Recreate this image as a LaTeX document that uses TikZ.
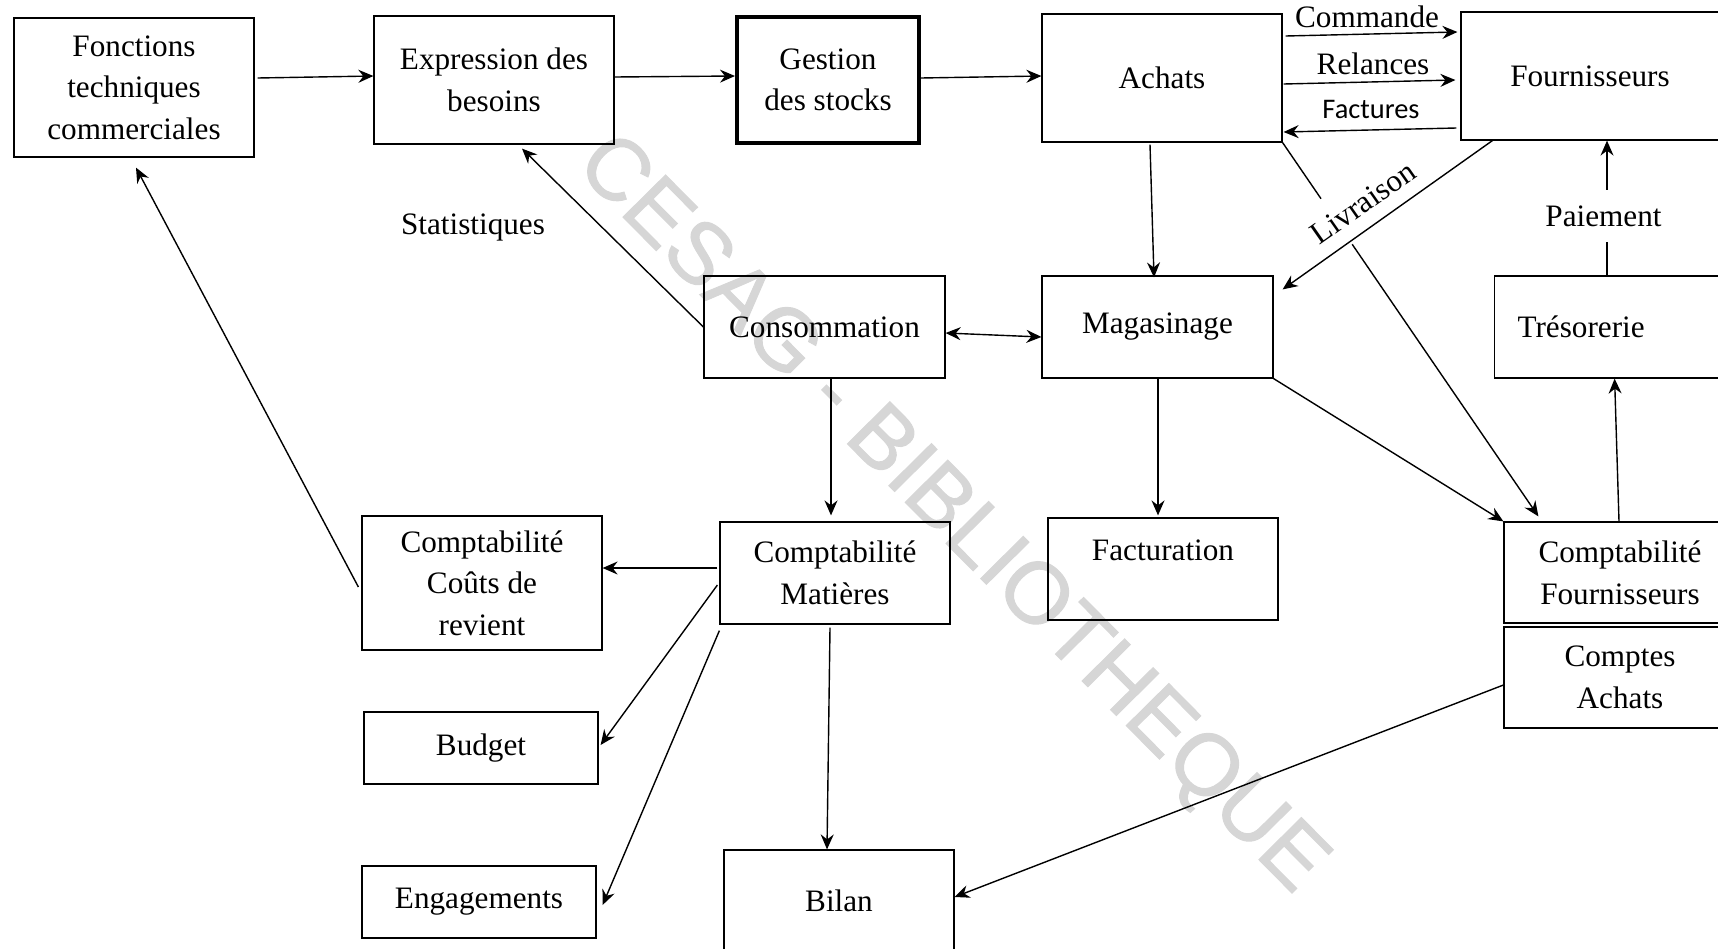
\documentclass[tikz,border=0pt]{standalone}
\usepackage{fontspec}
\setmainfont{Liberation Serif}
\newfontfamily\labelsans{Carlito}
\newfontfamily\markfont[FakeBold=1.2]{Liberation Sans}
\usetikzlibrary{arrows.meta,calc}
\newcommand\boxfont{\fontsize{15.6}{20.8}\selectfont}

\begin{document}
\begin{tikzpicture}[x=0.5pt, y=-0.5pt,
  box/.style={draw, line width=0.6pt, inner sep=0pt, align=center, font=\boxfont},
  conn/.style={line width=0.7pt, -{Stealth[length=7.5pt,width=6.5pt,inset=2.5pt]}},
  twoway/.style={line width=0.7pt, {Stealth[length=7.5pt,width=6.5pt,inset=2.5pt]}-{Stealth[length=7.5pt,width=6.5pt,inset=2.5pt]}},
  lbl/.style={font=\boxfont, inner sep=0pt},
  gap/.style={lbl, fill=white, inner xsep=2pt, inner ysep=8.5pt},
]
\useasboundingbox (0,0) rectangle (1718,948);
\clip (0,0) rectangle (1718,948);

% watermark
\node[text=black!16, font=\markfont\fontsize{43.5}{50}\selectfont, rotate=-45.3, inner sep=0pt] (wm) at (950,516) {CESAG - BIBLIOTHEQUE};

% boxes
\node[box, minimum width=120pt, minimum height=69.5pt] (fonc) at (134,87.5) {Fonctions\\techniques\\commerciales};
\node[box, minimum width=120pt, minimum height=64pt] (expr) at (494,80) {Expression des\\besoins};
\node[box, line width=2pt, minimum width=91pt, minimum height=63pt] (gest) at (828,80) {Gestion\\des stocks};
\node[box, minimum width=120pt, minimum height=64pt] (achats) at (1162,78) {Achats};
\node[box, minimum width=129pt, minimum height=64pt] (fourn) at (1590,76) {Fournisseurs};
\node[box, minimum width=120.5pt, minimum height=51pt] (conso) at (824.5,327) {Consommation};
\node[box, minimum width=115.5pt, minimum height=51pt] (magas) at (1157.5,327) {Magasinage};
\node[box, anchor=west, inner xsep=11.5pt, text width=100pt, align=left, minimum height=51pt] (treso) at (1494,327) {Trésorerie};
\node[box, minimum width=115pt, minimum height=51pt] (compmat) at (835,573) {Comptabilité\\Matières};
\node[box, minimum width=120pt, minimum height=67pt] (ccr) at (482,583) {Comptabilité\\Coûts de\\revient};
\node[box, minimum width=117pt, minimum height=36pt] (budget) at (481,748) {Budget};
\node[box, minimum width=117pt, minimum height=36pt] (engag) at (479,902) {Engagements};
\node[box, minimum width=115pt, minimum height=51pt] (bilan) at (839,901) {Bilan};
\node[box, minimum width=115pt, minimum height=51pt] (factu) at (1163,569) {\raisebox{4.5pt}[0pt][0pt]{Facturation}};
\node[box, minimum width=116pt, minimum height=50.5pt] (compfourn) at (1620,572.5) {Comptabilité\\Fournisseurs};
\node[box, minimum width=116pt, minimum height=50.5pt] (comptach) at (1620,677.5) {Comptes\\Achats};

% main chain
\draw[conn] ([xshift=1.5pt,yshift=4.75pt]fonc.east) -- ([yshift=2pt]expr.west);
\draw[conn] ([yshift=1.5pt]expr.east) -- ([yshift=2pt]gest.west);
\draw[conn] ([yshift=1pt]gest.east) -- ([yshift=1pt]achats.west);

% exchanges with suppliers
\draw[conn] ([xshift=1.5pt,yshift=21pt]achats.east) -- ([xshift=-1.5pt,yshift=22pt]fourn.west);
\draw[conn] ([xshift=0.5pt,yshift=-3pt]achats.east) -- ([xshift=-2.5pt,yshift=-2pt]fourn.west);
\draw[conn] ([xshift=-2pt,yshift=-26pt]fourn.west) -- ([xshift=0.5pt,yshift=-27pt]achats.east);
\node[lbl] (lcmd) at (1367,16.5) {Commande};
\node[lbl] (lrel) at (1373,64) {Relances};
\node[lbl, font=\labelsans\fontsize{14.2}{17}\selectfont] (lfac) at (1371,109) {Factures};

% flows to and from the store
\draw[conn] ([xshift=-6pt,yshift=-1pt]achats.south) -- ([xshift=-1.75pt,yshift=-1pt]magas.north);
\draw[conn] (achats.south east) -- ([xshift=17.5pt,yshift=2.5pt]compfourn.north west);
\node[gap, rotate=35] (lliv) at (1363,203) {Livraison};
\draw[conn] ([xshift=16pt]fourn.south west) -- ([xshift=4.5pt,yshift=-7pt]magas.north east);
\draw[conn] (magas.south east) -- (compfourn.north west);
\draw[conn] ([xshift=0.25pt]magas.south) -- ([xshift=-2.5pt,yshift=1pt]factu.north);
\draw[twoway] ([yshift=-3pt]conso.east) -- ([yshift=-5pt]magas.west);

% payment
\draw[conn] ([xshift=56.5pt]treso.north west) -- ([xshift=8.5pt]fourn.south);
\node[gap, inner ysep=8pt] (lpai) at (1603.5,216) {Paiement};
\draw[conn] ([xshift=-0.5pt]compfourn.north) -- ([xshift=-1.5pt]treso.south);

% consumption and accounting
\draw[conn] (conso.west) -- ([xshift=14pt,yshift=-2pt]expr.south);
\node[lbl] (lstat) at (473,227.5) {Statistiques};
\draw[conn] ([xshift=3.25pt]conso.south) -- ([xshift=-2pt,yshift=3pt]compmat.north);
\draw[conn] ([xshift=-1.5pt,yshift=-2pt]ccr.west) -- ([xshift=1pt,yshift=-5pt]fonc.south);
\draw[conn] ([xshift=-1pt,yshift=2.5pt]compmat.west) -- ([yshift=7.5pt]ccr.east);
\draw[conn] ([xshift=-1pt,yshift=-6pt]compmat.west) -- ([xshift=1pt,yshift=1.5pt]budget.east);
\draw[conn] ([yshift=-3pt]compmat.south west) -- ([xshift=3pt,yshift=-1.5pt]engag.east);
\draw[conn] ([xshift=-2.5pt,yshift=-1.5pt]compmat.south) -- ([xshift=-6pt]bilan.north);
\draw[conn] ([yshift=-3.75pt]comptach.west) -- ([yshift=2pt]bilan.east);
\end{tikzpicture}
\end{document}
